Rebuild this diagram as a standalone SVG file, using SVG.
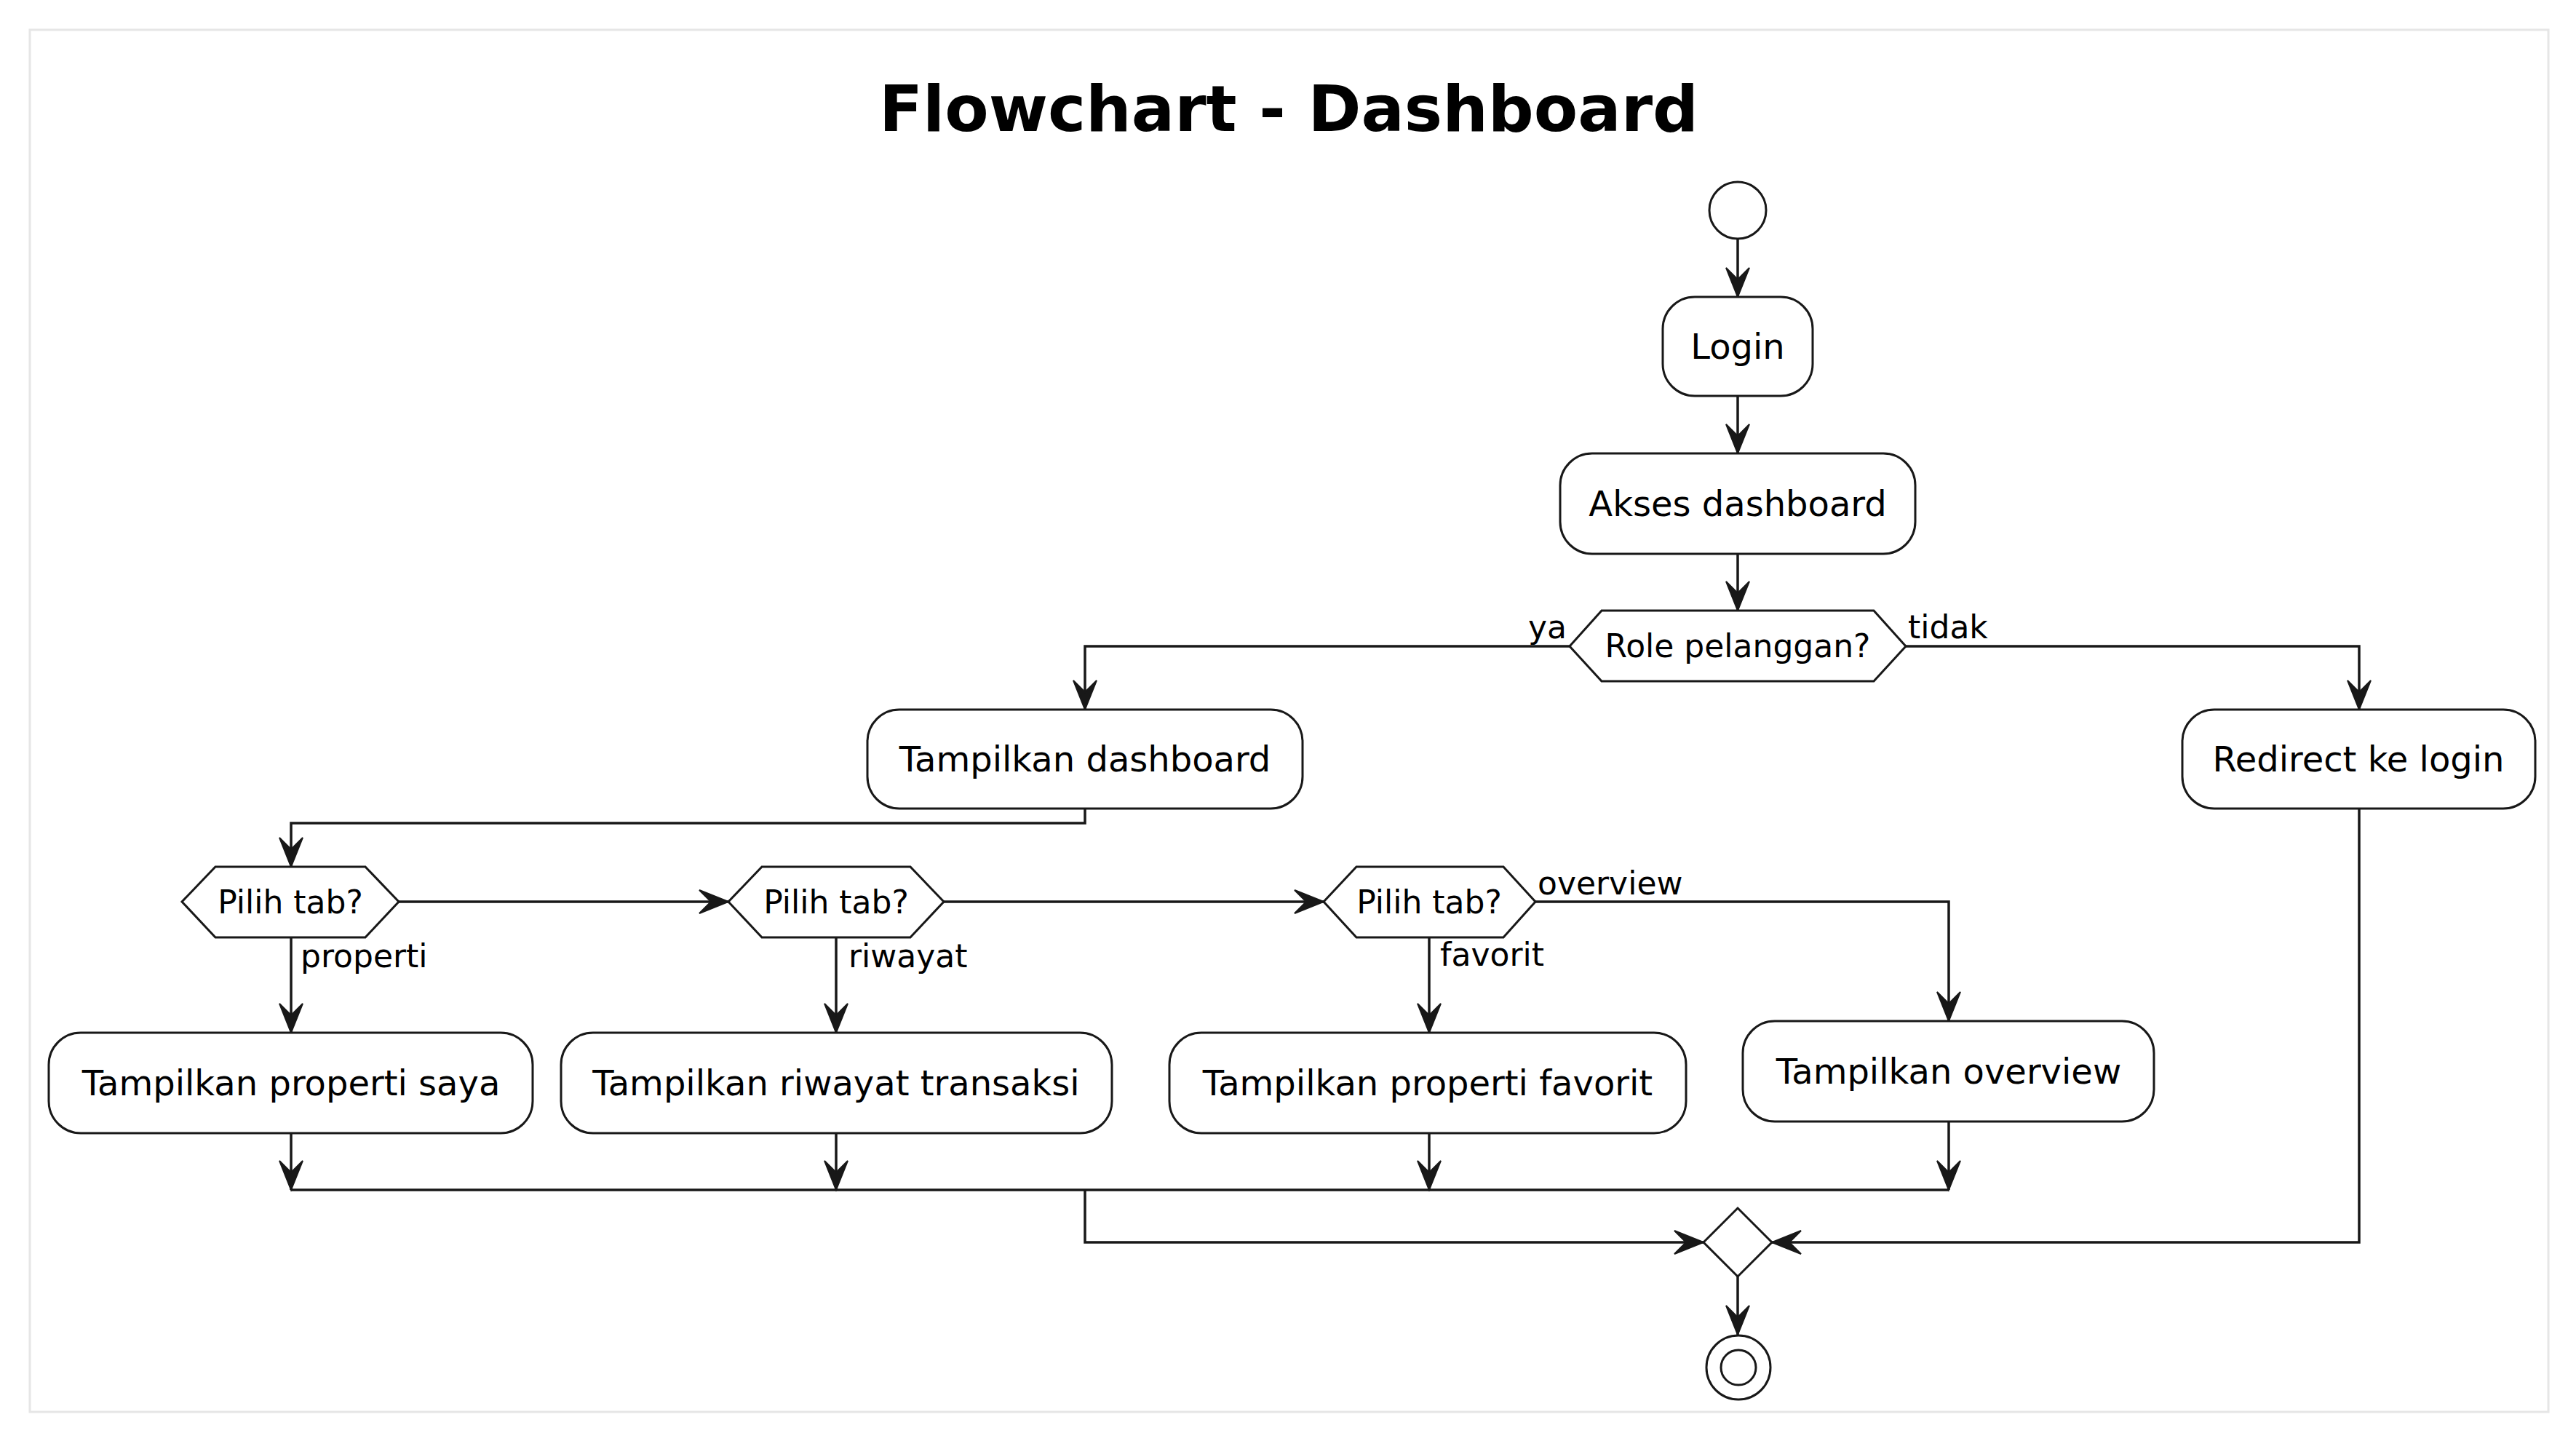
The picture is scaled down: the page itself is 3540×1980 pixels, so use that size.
<svg xmlns="http://www.w3.org/2000/svg" width="3540" height="1980" viewBox="0 0 3540 1980">
<style>
.box{fill:#ffffff;stroke:#181818;stroke-width:3}
.ln{fill:none;stroke:#181818;stroke-width:3.5}
.t{font-family:"DejaVu Sans","Liberation Sans",sans-serif;font-size:48px;fill:#000;text-anchor:middle}
.d{font-family:"DejaVu Sans","Liberation Sans",sans-serif;font-size:44px;fill:#000;text-anchor:middle}
.l{font-family:"DejaVu Sans","Liberation Sans",sans-serif;font-size:44px;fill:#000}
.title{font-family:"DejaVu Sans","Liberation Sans",sans-serif;font-size:88px;font-weight:bold;fill:#000;text-anchor:middle}
</style>
<defs>
<marker id="ah" markerUnits="userSpaceOnUse" markerWidth="48" markerHeight="40" viewBox="-44 -20 48 40" refX="0" refY="0" orient="auto" overflow="visible">
<path d="M0,0 L-40,-16 L-24,0 L-40,16 Z" fill="#181818" stroke="#181818" stroke-width="2" stroke-linejoin="miter"/>
</marker>
</defs>
<rect x="0" y="0" width="3540" height="1980" fill="#ffffff"/>
<rect x="41" y="41" width="3461" height="1899" fill="none" stroke="#e6e6e6" stroke-width="3"/>
<text class="title" x="1771" y="180">Flowchart - Dashboard</text>

<g id="connectors">
<path class="ln" d="M2388,328 L2388,408" marker-end="url(#ah)"/>
<path class="ln" d="M2388,544 L2388,623" marker-end="url(#ah)"/>
<path class="ln" d="M2388,761 L2388,839" marker-end="url(#ah)"/>
<path class="ln" d="M2157,888 L1491,888 L1491,975" marker-end="url(#ah)"/>
<path class="ln" d="M2619,888 L3242,888 L3242,975" marker-end="url(#ah)"/>
<path class="ln" d="M1491,1111 L1491,1131 L400,1131 L400,1191" marker-end="url(#ah)"/>
<path class="ln" d="M548,1239 L1001,1239" marker-end="url(#ah)"/>
<path class="ln" d="M1297,1239 L1819,1239" marker-end="url(#ah)"/>
<path class="ln" d="M2110,1239 L2678,1239 L2678,1403" marker-end="url(#ah)"/>
<path class="ln" d="M400,1288 L400,1419" marker-end="url(#ah)"/>
<path class="ln" d="M1149,1288 L1149,1419" marker-end="url(#ah)"/>
<path class="ln" d="M1964,1288 L1964,1419" marker-end="url(#ah)"/>
<path class="ln" d="M400,1557 L400,1635" marker-end="url(#ah)"/>
<path class="ln" d="M1149,1557 L1149,1635" marker-end="url(#ah)"/>
<path class="ln" d="M1964,1557 L1964,1635" marker-end="url(#ah)"/>
<path class="ln" d="M2678,1541 L2678,1635" marker-end="url(#ah)"/>
<path class="ln" d="M400,1635 L2678,1635"/>
<path class="ln" d="M1491,1635 L1491,1707 L2341,1707" marker-end="url(#ah)"/>
<path class="ln" d="M3242,1111 L3242,1707 L2435,1707" marker-end="url(#ah)"/>
<path class="ln" d="M2388,1754 L2388,1834" marker-end="url(#ah)"/>
<text class="l" x="2153" y="877" text-anchor="end">ya</text>
<text class="l" x="2622" y="877">tidak</text>
<text class="l" x="413" y="1329">properti</text>
<text class="l" x="1166" y="1329">riwayat</text>
<text class="l" x="1979" y="1327">favorit</text>
<text class="l" x="2113" y="1229">overview</text>
</g>

<g id="start"><circle cx="2388" cy="289" r="39" class="box"/></g>
<g id="login"><rect class="box" x="2285" y="408" width="206" height="136" rx="44"/><text class="t" x="2388" y="493">Login</text></g>
<g id="akses"><rect class="box" x="2144" y="623" width="488" height="138" rx="44"/><text class="t" x="2388" y="709">Akses dashboard</text></g>
<g id="role"><polygon class="box" points="2157,888 2201,839 2575,839 2619,888 2575,936 2201,936"/><text class="d" x="2388" y="903">Role pelanggan?</text></g>
<g id="tdash"><rect class="box" x="1192" y="975" width="598" height="136" rx="44"/><text class="t" x="1491" y="1060">Tampilkan dashboard</text></g>
<g id="redirect"><rect class="box" x="2999" y="975" width="485" height="136" rx="44"/><text class="t" x="3241" y="1060">Redirect ke login</text></g>
<g id="tab1"><polygon class="box" points="250,1239 296,1191 502,1191 548,1239 502,1288 296,1288"/><text class="d" x="399" y="1255">Pilih tab?</text></g>
<g id="tab2"><polygon class="box" points="1001,1239 1047,1191 1251,1191 1297,1239 1251,1288 1047,1288"/><text class="d" x="1149" y="1255">Pilih tab?</text></g>
<g id="tab3"><polygon class="box" points="1819,1239 1864,1191 2066,1191 2110,1239 2066,1288 1864,1288"/><text class="d" x="1964" y="1255">Pilih tab?</text></g>
<g id="properti"><rect class="box" x="67" y="1419" width="665" height="138" rx="44"/><text class="t" x="400" y="1505">Tampilkan properti saya</text></g>
<g id="riwayat"><rect class="box" x="771" y="1419" width="757" height="138" rx="44"/><text class="t" x="1149" y="1505">Tampilkan riwayat transaksi</text></g>
<g id="favorit"><rect class="box" x="1607" y="1419" width="710" height="138" rx="44"/><text class="t" x="1962" y="1505">Tampilkan properti favorit</text></g>
<g id="overview"><rect class="box" x="2395" y="1403" width="565" height="138" rx="44"/><text class="t" x="2678" y="1489">Tampilkan overview</text></g>
<g id="merge"><polygon class="box" points="2341,1707 2388,1660 2435,1707 2388,1754"/></g>
<g id="end"><circle cx="2389" cy="1879" r="44" class="box"/><circle cx="2389" cy="1879" r="24" class="box"/></g>
</svg>
